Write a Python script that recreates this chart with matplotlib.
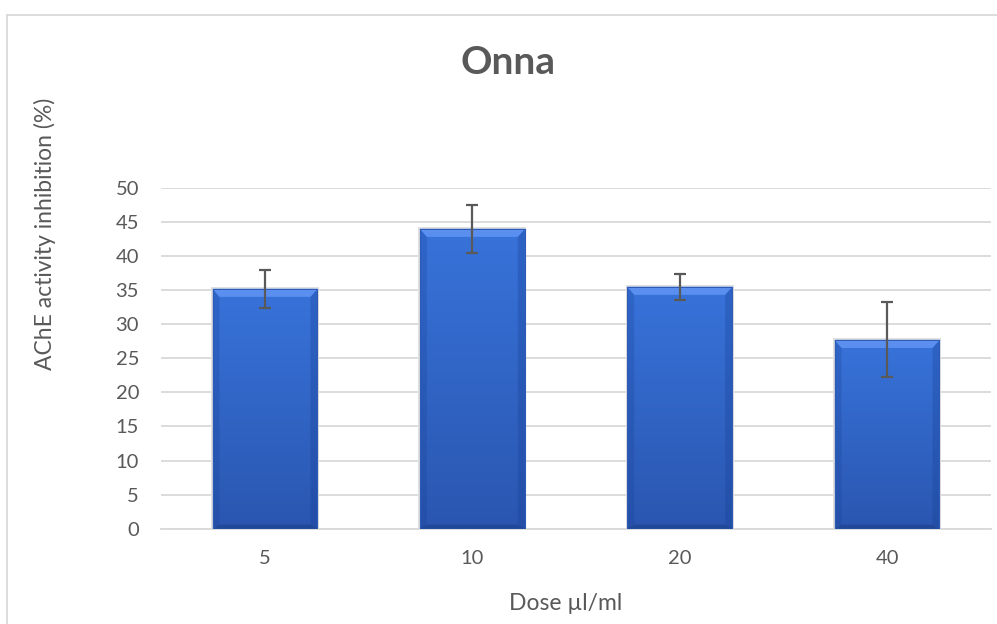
import matplotlib.pyplot as plt
import numpy as np
from matplotlib.patches import Polygon
from matplotlib.lines import Line2D
from matplotlib.colors import LinearSegmentedColormap

doses = ['5', '10', '20', '40']
inhibition = [35.2, 44.0, 35.5, 27.7]
errors = [2.8, 3.5, 1.95, 5.5]

plt.rcParams['font.family'] = ['Lato', 'DejaVu Sans']
grey = '#595959'

W, H = 997, 624
fig = plt.figure(figsize=(W / 100, H / 100), dpi=100)
ax = fig.add_axes([161.3 / W, (H - 528.7) / H, 829.4 / W, 340.7 / H])

x = np.arange(len(doses))
width = 0.506
ax.set_xlim(-0.5, 3.5)
ax.set_ylim(0, 50)

# bevel sizes in data units
px_x = 4 / 829.4
px_y = 50 / 340.7
bx, bt, bb = 7 * px_x, 8 * px_y, 4 * px_y

grad = np.linspace(0, 1, 256).reshape(-1, 1)
body = LinearSegmentedColormap.from_list('body', ['#2a56b0', '#3873da'])

for xi, h in zip(x, inhibition):
    x0, x1 = xi - width / 2, xi + width / 2
    # faint shadow
    ax.add_patch(plt.Rectangle((x0 - 1.5 * px_x, 0), width + 3 * px_x, h + 1.5 * px_y,
                               color='#e0e0e0', lw=0, zorder=2))
    ax.imshow(grad, extent=[x0, x1, 0, h], origin='lower', cmap=body,
              aspect='auto', zorder=3)
    ax.add_patch(Polygon([(x0, 0), (x0 + bx, bb), (x0 + bx, h - bt), (x0, h)],
                         color='#173f94', alpha=0.25, lw=0, zorder=4))
    ax.add_patch(Polygon([(x1, 0), (x1 - bx, bb), (x1 - bx, h - bt), (x1, h)],
                         color='#173f94', alpha=0.3, lw=0, zorder=4))
    ax.add_patch(Polygon([(x0, 0), (x1, 0), (x1 - bx, bb), (x0 + bx, bb)],
                         color='#1c3f88', alpha=0.6, lw=0, zorder=4))
    ax.add_patch(Polygon([(x0, h), (x1, h), (x1 - bx, h - bt), (x0 + bx, h - bt)],
                         color='#5a8ff0', lw=0, zorder=4))
    ax.plot([x0, x1], [h, h], color='#7aa8f7', lw=1.0, zorder=4)
    ax.plot([x0, x0, x1, x1], [0, h, h, 0], color='#2d5ab5', lw=0.8, zorder=4)

ax.errorbar(x, inhibition, yerr=errors, fmt='none', ecolor=grey,
            elinewidth=1.6, capsize=4.5, capthick=1.6, zorder=6)

ax.set_yticks(np.arange(0, 51, 5))
ax.set_xticks(x)
ax.set_xticklabels(doses)
ax.yaxis.grid(True, color='#d9d9d9', lw=1.3)
ax.set_axisbelow(True)
for s in ['top', 'right', 'left']:
    ax.spines[s].set_visible(False)
ax.spines['bottom'].set_color('#d9d9d9')
ax.spines['bottom'].set_linewidth(1.3)
ax.tick_params(axis='both', length=0, labelsize=14.5, labelcolor=grey)
ax.tick_params(axis='y', pad=16)
ax.tick_params(axis='x', pad=15)

fig.text(508 / W, 1 - 63 / H, 'Onna', fontsize=28, fontweight='bold',
         color=grey, ha='center', va='center')
fig.text(45 / W, 1 - 234 / H, 'AChE activity inhibition (%)', fontsize=16.5,
         color=grey, rotation=90, ha='center', va='center')
fig.text(566 / W, 1 - 603 / H, 'Dose µl/ml', fontsize=16.5, color=grey,
         ha='center', va='center')

# chart border (only left and top visible)
fig.add_artist(Line2D([7 / W, 7 / W], [0, 1 - 15 / H], color='#d9d9d9', lw=1.3))
fig.add_artist(Line2D([7 / W, 1], [1 - 15 / H, 1 - 15 / H], color='#d9d9d9', lw=1.3))

fig.savefig('out.png', dpi=100)
